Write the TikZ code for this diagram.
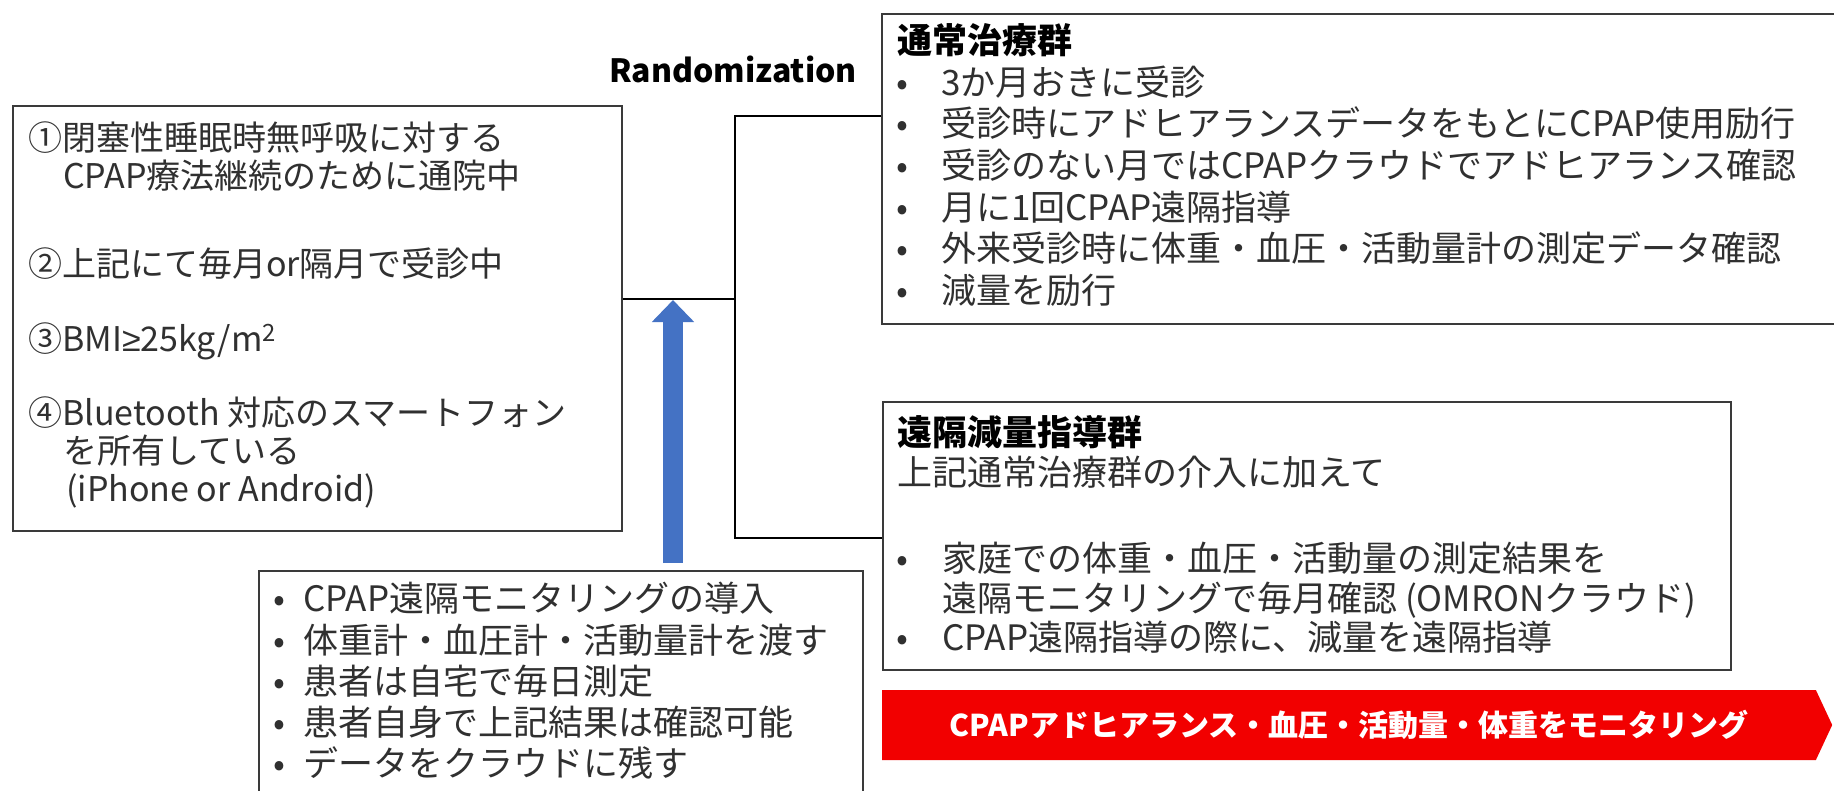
\documentclass[tikz,border=0pt]{standalone}
\usepackage{fontspec}
\setmainfont{Noto Sans CJK JP}
\newfontfamily\symfont{Liberation Sans}
\usetikzlibrary{arrows.meta,shapes.symbols}
\definecolor{framegray}{HTML}{3A3A3A}
\definecolor{textgray}{HTML}{303030}
\definecolor{arrowblue}{HTML}{4472C4}
\definecolor{monred}{HTML}{F20000}
\tikzset{
  frame/.style={draw=framegray, line width=2pt, inner sep=0pt, anchor=north west},
  txt/.style={anchor=west, inner sep=0pt, text height=30pt, text depth=4pt,
    font=\fontsize{35}{40}\selectfont, text=textgray},
  ltxt/.style={txt, font=\fontsize{34}{38}\selectfont},
  ttl/.style={txt, font=\fontsize{35}{40}\selectfont\bfseries, text=black},
  bul/.style={txt},
  conn/.style={draw=black, line width=2pt},
}
\begin{document}
\begin{tikzpicture}[x=1pt,y=-1pt]
\useasboundingbox (0,0) rectangle (1834,790);
\clip (0,0) rectangle (1834,790);
\fill[white] (0,0) rectangle (1834,790);

% boxes
\node[frame, minimum width=609pt, minimum height=425pt] (lbox) at (12,105) {};
\node[frame, minimum width=1000pt, minimum height=310pt] (tbox) at (881,13) {};
\node[frame, minimum width=848pt, minimum height=268pt] (rbox) at (882,401) {};
\node[frame, minimum width=604pt, minimum height=260pt] (bbox) at (258,570) {};

% Randomization
\node[anchor=base east, inner sep=0pt, font=\fontsize{32}{36}\selectfont\bfseries] (rand) at (857,82) {Randomization};

% left box text
\node[ltxt] (l1a) at (28,137) {①閉塞性睡眠時無呼吸に対する};
\node[ltxt] (l1b) at (63,175) {CPAP療法継続のために通院中};
\node[ltxt] (l2) at (28,263) {②上記にて毎月or隔月で受診中};
\node[ltxt] (l3) at (28,338) {③BMI{\symfont ≥}25kg/m\textsuperscript{2}};
\node[ltxt] (l4a) at (28,412) {④Bluetooth 対応のスマートフォン};
\node[ltxt] (l4b) at (63,450) {を所有している};
\node[ltxt] (l4c) at (66,488) {(iPhone or Android)};

% top right box text
\node[ttl] (t0) at (897,40) {通常治療群};
\node[bul] (tb1) at (896,82) {•};
\node[txt] (t1) at (941,82) {3か月おきに受診};
\node[bul] (tb2) at (896,123) {•};
\node[txt] (t2) at (941,123) {受診時にアドヒアランスデータをもとにCPAP使用励行};
\node[bul] (tb3) at (896,165) {•};
\node[txt] (t3) at (941,165) {受診のない月ではCPAPクラウドでアドヒアランス確認};
\node[bul] (tb4) at (896,207) {•};
\node[txt] (t4) at (941,207) {月に1回CPAP遠隔指導};
\node[bul] (tb5) at (896,248) {•};
\node[txt] (t5) at (941,248) {外来受診時に体重・血圧・活動量計の測定データ確認};
\node[bul] (tb6) at (896,290) {•};
\node[txt] (t6) at (941,290) {減量を励行};

% lower right box text
\node[ttl] (r0) at (897,432) {遠隔減量指導群};
\node[txt] (r1) at (897,472) {上記通常治療群の介入に加えて};
\node[bul] (rb1) at (896,558) {•};
\node[txt] (r2) at (942,558) {家庭での体重・血圧・活動量の測定結果を};
\node[txt] (r3) at (942,598) {遠隔モニタリングで毎月確認 (OMRONクラウド)};
\node[bul] (rb2) at (896,637) {•};
\node[txt] (r4) at (942,637) {CPAP遠隔指導の際に、減量を遠隔指導};

% bottom box text
\node[bul] (bb1) at (273,598) {•};
\node[txt] (b1) at (303,598) {CPAP遠隔モニタリングの導入};
\node[bul] (bb2) at (273,640) {•};
\node[txt] (b2) at (303,640) {体重計・血圧計・活動量計を渡す};
\node[bul] (bb3) at (273,681) {•};
\node[txt] (b3) at (303,681) {患者は自宅で毎日測定};
\node[bul] (bb4) at (273,722) {•};
\node[txt] (b4) at (303,722) {患者自身で上記結果は確認可能};
\node[bul] (bb5) at (273,763) {•};
\node[txt] (b5) at (303,763) {データをクラウドに残す};

% red monitoring arrow
\node[signal, signal to=east, signal from=nowhere, signal pointer angle=130,
  fill=monred, draw=none, minimum width=950pt, minimum height=70pt, inner sep=0pt,
  anchor=west, text=white, font=\fontsize{30}{34}\selectfont\bfseries] (mon) at (882,725)
  {CPAPアドヒアランス・血圧・活動量・体重をモニタリング};

% connectors
\coordinate (jn) at (735,299);
\coordinate (ta) at (735,116);
\coordinate (ba) at (735,538);
\draw[conn] (lbox.east |- jn) -- (jn);
\draw[conn] (ta -| tbox.west) -- (ta) -- (ba) -- (ba -| rbox.west);

% blue arrow
\coordinate (tip) at (673,300);
\draw[arrowblue, line width=20pt, -{Triangle[width=41pt,length=22pt]}]
  ([yshift=7pt]bbox.north -| tip) -- (tip);
\end{tikzpicture}
\end{document}
